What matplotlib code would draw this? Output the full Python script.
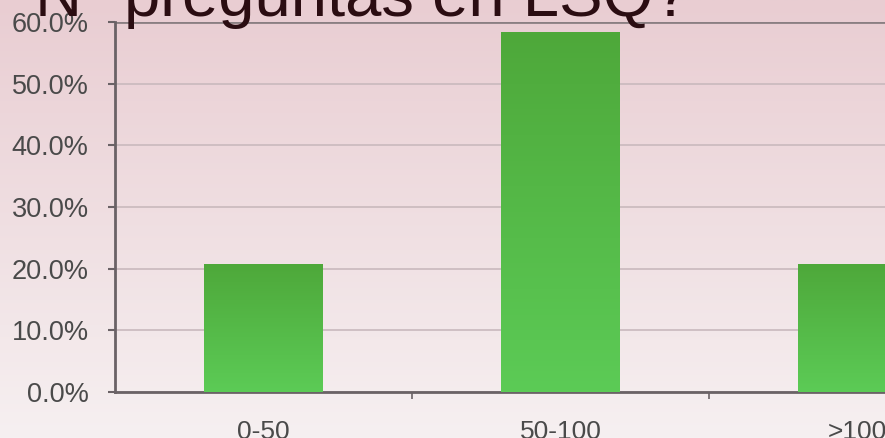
import numpy as np
import matplotlib.pyplot as plt
from matplotlib.colors import LinearSegmentedColormap
from matplotlib.ticker import FuncFormatter

plt.rcParams['font.family'] = ['Liberation Sans', 'DejaVu Sans']

categories = ['0-50', '50-100', '>100']
values = [20.8, 58.3, 20.8]
yticks = [0, 10, 20, 30, 40, 50, 60]
title = 'Nº preguntas en LSQ?'

fig = plt.figure(figsize=(8.85, 4.38), dpi=100)

# pink background gradient
bg = fig.add_axes([0, 0, 1, 1], zorder=-10)
bgcmap = LinearSegmentedColormap.from_list('bg', ['#e9cdd2', '#f6f0f1'])
bg.imshow(np.linspace(0, 1, 256).reshape(-1, 1), cmap=bgcmap, aspect='auto',
          extent=[0, 1, 0, 1])
bg.axis('off')

ax = fig.add_axes([115/885, 46/438, 891/885, 370/438])
ax.patch.set_alpha(0)
x = np.arange(len(categories))
bars = ax.bar(x, values, width=0.40, color='none', zorder=3)
# darker green at the top, lighter at the bottom
gcmap = LinearSegmentedColormap.from_list('g', ['#4ea83a', '#5ccb56'])
grad = np.linspace(0, 1, 256).reshape(-1, 1)
for b in bars:
    im = ax.imshow(grad, cmap=gcmap, aspect='auto', zorder=3,
                   extent=[b.get_x(), b.get_x() + b.get_width(), 0, b.get_height()])
    im.set_clip_path(b)

ax.set_xlim(-0.5, 2.5)
ax.set_ylim(0, 60)
ax.set_yticks(yticks)
ax.yaxis.set_major_formatter(FuncFormatter(lambda v, p: f'{v:.1f}%'))
ax.grid(axis='y', color='#c9b9bd', linewidth=1.2, zorder=1)
ax.axhline(60, color='#8a7f82', linewidth=2, zorder=2)

for s in ['top', 'right']:
    ax.spines[s].set_visible(False)
ax.spines['left'].set_color('#6a6266')
ax.spines['left'].set_linewidth(2)
ax.spines['bottom'].set_color('#6a6266')
ax.spines['bottom'].set_linewidth(2)

ax.tick_params(axis='y', length=5, width=1.5, color='#6a6266', pad=14,
               labelsize=19.5, labelcolor='#4a4a4a')
ax.set_xticks(x)
ax.set_xticklabels(categories)
ax.tick_params(axis='x', length=0, pad=20, labelsize=19, labelcolor='#4a4a4a')
ax.set_xticks([0.5, 1.5], minor=True)
ax.tick_params(axis='x', which='minor', length=5, width=1.2, color='#6a6266')

fig.text(35/885, 1 - 16/438, title, fontsize=47, color='#2b0d12',
         ha='left', va='baseline')

fig.savefig('out.png', dpi=100)
